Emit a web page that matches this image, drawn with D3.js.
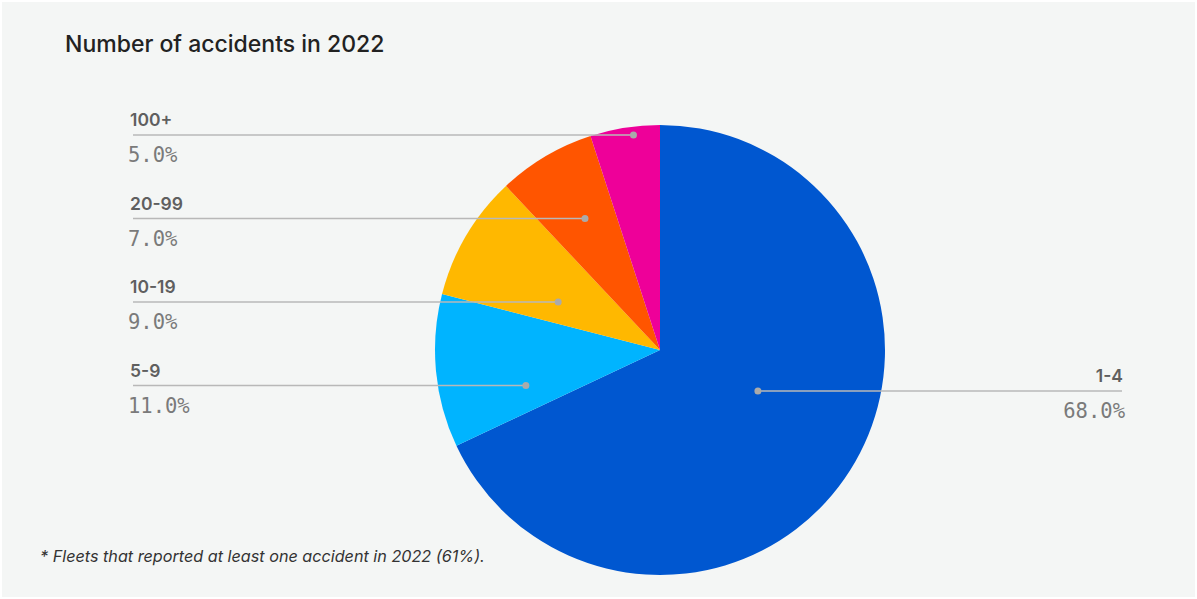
<!DOCTYPE html>
<html><head><meta charset="utf-8">
<script src="https://cdn.jsdelivr.net/npm/d3@7"></script>
<style>
html,body{margin:0;padding:0;background:#fff;}
svg{display:block;}
</style></head>
<body>
<script>
const categories = ["1-4", "5-9", "10-19", "20-99", "100+"];
const values = [68.0, 11.0, 9.0, 7.0, 5.0];
const colors = ["#0057d0", "#00b4ff", "#ffb800", "#ff5500", "#ee0099"];
const title = "Number of accidents in 2022";
const footnote = "* Fleets that reported at least one accident in 2022 (61%).";

const W = 1197, H = 599;
const svg = d3.select("body").append("svg").attr("width", W).attr("height", H);
svg.append("rect").attr("x", 2).attr("y", 2).attr("width", W - 4).attr("height", H - 4).attr("fill", "#f4f6f5");

svg.append("text").attr("x", 65).attr("y", 52).text(title)
  .attr("font-family", "Inter, 'Noto Sans', sans-serif").attr("font-size", 23).attr("font-weight", 500).attr("fill", "#222");
svg.append("text").attr("x", 40).attr("y", 562).text(footnote)
  .attr("font-family", "Inter, 'Noto Sans', sans-serif").attr("font-size", 16.2).attr("font-style", "italic").attr("fill", "#333");

const cx = 660, cy = 350, r = 225;
const pie = d3.pie().sort(null).value(d => d.v);
const data = categories.map((c, i) => ({c, v: values[i], col: colors[i]}));
const arcs = pie(data);
const arc = d3.arc().innerRadius(0).outerRadius(r);
const g = svg.append("g").attr("transform", `translate(${cx},${cy})`);
g.selectAll("path").data(arcs).join("path").attr("d", arc).attr("fill", d => d.data.col);

function rayX(angle, dy) {
  const sx = Math.sin(angle), sy = -Math.cos(angle);
  if (Math.abs(sy) < 1e-9 || dy / sy < 0) return null;
  const t = dy / sy;
  if (t > r) return null;
  return sx * t;
}
function spanPos(a) {
  const dy = a.ly - cy;
  const circ = Math.sqrt(Math.max(0, r * r - dy * dy));
  const xs = [];
  [a.startAngle, a.endAngle].forEach(an => { const x = rayX(an, dy); if (x !== null) xs.push(x); });
  [-circ, circ].forEach(x => {
    let an = Math.atan2(x, -dy); if (an < 0) an += 2 * Math.PI;
    if (an >= a.startAngle - 1e-6 && an <= a.endAngle + 1e-6) xs.push(x);
  });
  const lo = d3.min(xs), hi = d3.max(xs);
  return lo + 0.6 * (hi - lo);
}
const left = [];
arcs.forEach(a => {
  const mid = (a.startAngle + a.endAngle) / 2;
  a.side = Math.sin(mid) < 0 ? "left" : "right";
  if (a.side === "left") { a.ly = cy - Math.cos(mid) * r; left.push(a); }
  else { a.ly = cy - Math.cos(mid) * r * 0.34; }
});
left.sort((p, q) => p.ly - q.ly);
let minY = cy - r + 10;
left.forEach(a => { a.ly = Math.max(a.ly, minY); minY = a.ly + 83.5; });

const lab = svg.append("g");
arcs.forEach(a => {
  const dx = cx + spanPos(a);
  const isL = a.side === "left";
  const x0 = isL ? 133 : 1122;
  lab.append("line").attr("x1", x0).attr("x2", dx).attr("y1", a.ly).attr("y2", a.ly)
    .attr("stroke", "#b8b8b8").attr("stroke-width", 1.5);
  lab.append("circle").attr("cx", dx).attr("cy", a.ly).attr("r", 3.5).attr("fill", "#aaa");
  lab.append("text").attr("x", isL ? 130 : 1123).attr("y", a.ly - 9)
    .attr("text-anchor", isL ? "start" : "end").text(a.data.c)
    .attr("font-family", "Inter, 'Noto Sans', sans-serif").attr("font-size", 17.5).attr("font-weight", 600).attr("fill", "#5f5f5f");
  lab.append("text").attr("x", isL ? 128 : 1125).attr("y", a.ly + 27)
    .attr("text-anchor", isL ? "start" : "end").text(d3.format(".1f")(a.data.v) + "%")
    .attr("font-family", "'DejaVu Sans Mono', monospace").attr("font-size", 20.5).attr("fill", "#7a7a7a");
});
</script>
</body></html>
